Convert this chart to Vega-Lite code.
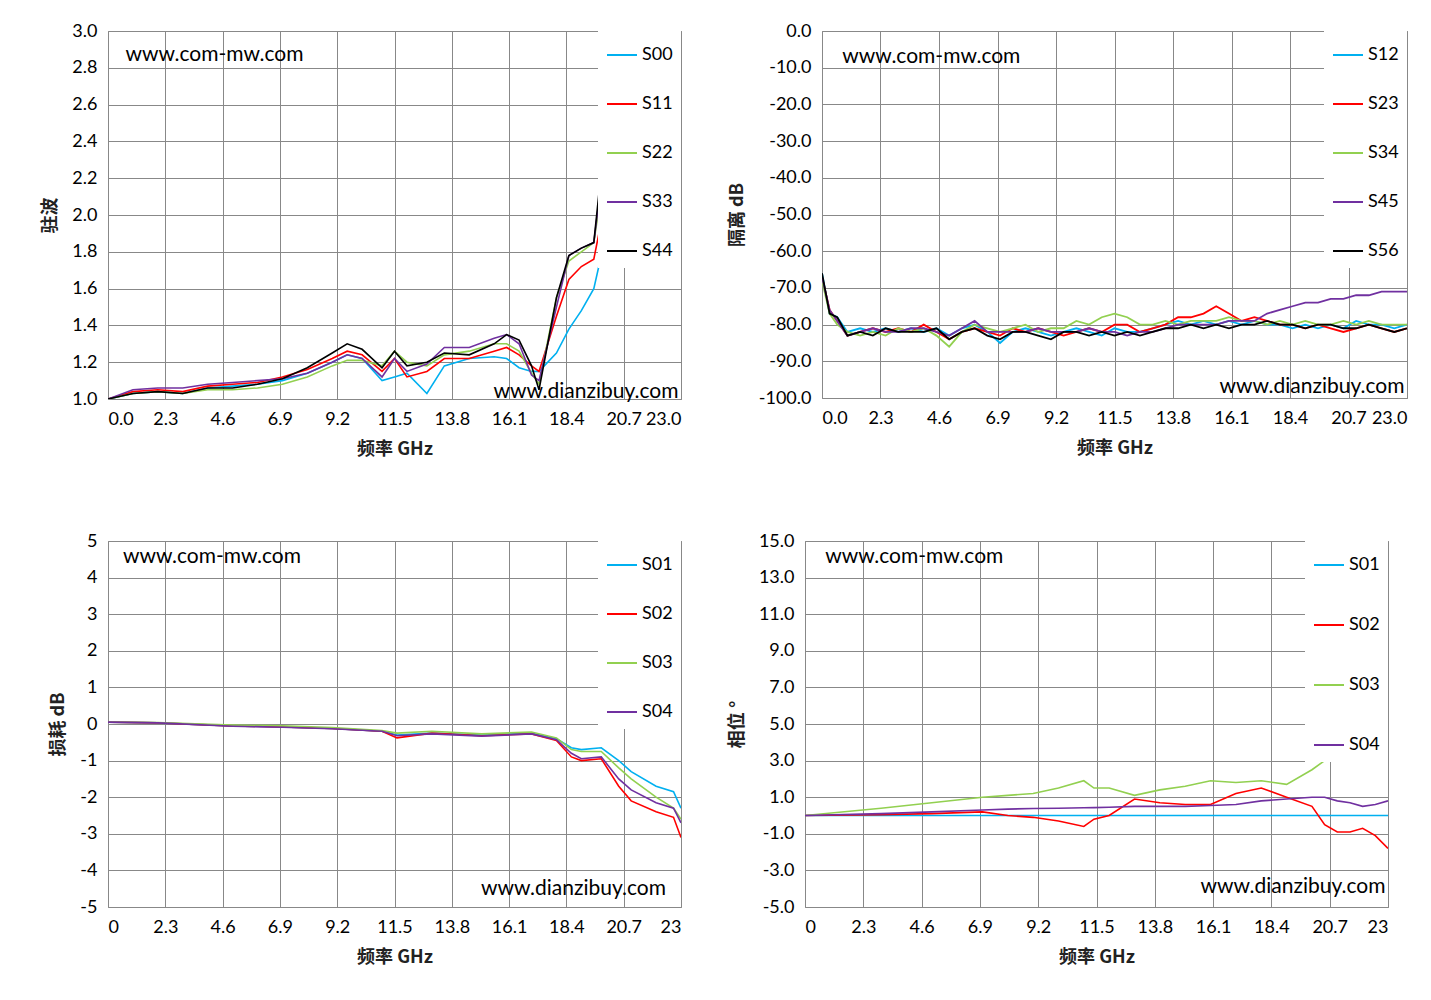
{
  "$schema": "https://vega.github.io/schema/vega-lite/v6.json",
  "background": "white",
  "padding": {"left": 41, "top": 21, "right": 10, "bottom": 5},
  "datasets": {
    "p1": [
      {"f":0,"S00":1.0,"S11":1.0,"S22":1.0,"S33":1.0,"S44":1.0},
      {"f":1,"S00":1.03,"S11":1.04,"S22":1.03,"S33":1.05,"S44":1.03},
      {"f":2,"S00":1.04,"S11":1.05,"S22":1.04,"S33":1.06,"S44":1.04},
      {"f":3,"S00":1.03,"S11":1.04,"S22":1.03,"S33":1.06,"S44":1.03},
      {"f":4,"S00":1.06,"S11":1.07,"S22":1.05,"S33":1.08,"S44":1.06},
      {"f":5,"S00":1.07,"S11":1.08,"S22":1.05,"S33":1.09,"S44":1.06},
      {"f":6,"S00":1.08,"S11":1.09,"S22":1.06,"S33":1.1,"S44":1.08},
      {"f":7,"S00":1.1,"S11":1.12,"S22":1.08,"S33":1.11,"S44":1.11},
      {"f":8,"S00":1.14,"S11":1.16,"S22":1.12,"S33":1.14,"S44":1.17},
      {"f":9,"S00":1.2,"S11":1.22,"S22":1.18,"S33":1.2,"S44":1.25},
      {"f":9.6,"S00":1.24,"S11":1.26,"S22":1.21,"S33":1.24,"S44":1.3},
      {"f":10.2,"S00":1.22,"S11":1.24,"S22":1.21,"S33":1.22,"S44":1.27},
      {"f":11,"S00":1.1,"S11":1.15,"S22":1.18,"S33":1.12,"S44":1.17},
      {"f":11.5,"S00":1.12,"S11":1.22,"S22":1.26,"S33":1.22,"S44":1.26},
      {"f":12,"S00":1.14,"S11":1.12,"S22":1.2,"S33":1.15,"S44":1.18},
      {"f":12.8,"S00":1.03,"S11":1.15,"S22":1.18,"S33":1.19,"S44":1.2},
      {"f":13.5,"S00":1.18,"S11":1.22,"S22":1.24,"S33":1.28,"S44":1.25},
      {"f":14.5,"S00":1.22,"S11":1.22,"S22":1.26,"S33":1.28,"S44":1.24},
      {"f":15.5,"S00":1.23,"S11":1.26,"S22":1.3,"S33":1.33,"S44":1.3},
      {"f":16,"S00":1.22,"S11":1.28,"S22":1.3,"S33":1.35,"S44":1.35},
      {"f":16.5,"S00":1.17,"S11":1.24,"S22":1.26,"S33":1.3,"S44":1.32},
      {"f":17,"S00":1.15,"S11":1.18,"S22":1.14,"S33":1.13,"S44":1.18},
      {"f":17.3,"S00":1.15,"S11":1.15,"S22":1.08,"S33":1.1,"S44":1.05},
      {"f":18,"S00":1.25,"S11":1.45,"S22":1.55,"S33":1.5,"S44":1.55},
      {"f":18.5,"S00":1.38,"S11":1.65,"S22":1.75,"S33":1.78,"S44":1.78},
      {"f":19,"S00":1.48,"S11":1.72,"S22":1.8,"S33":1.82,"S44":1.82},
      {"f":19.5,"S00":1.6,"S11":1.76,"S22":1.85,"S33":1.85,"S44":1.85},
      {"f":20,"S00":1.9,"S11":2.1,"S22":2.3,"S33":2.4,"S44":2.5},
      {"f":20.5,"S00":2.05,"S11":2.2,"S22":2.6,"S33":2.8,"S44":2.9},
      {"f":21,"S00":2.3,"S11":2.5,"S22":3.1,"S33":3.2,"S44":3.3},
      {"f":22,"S00":2.6,"S11":2.8,"S22":3.5,"S33":3.5,"S44":3.5},
      {"f":22.5,"S00":2.78,"S11":3.1,"S22":3.6,"S33":3.6,"S44":3.6},
      {"f":23,"S00":3.0,"S11":3.3,"S22":3.7,"S33":3.7,"S44":3.7}
    ],
    "p2": [
      {"f":0,"S12":-66,"S23":-67,"S34":-68,"S45":-67,"S56":-66},
      {"f":0.3,"S12":-77,"S23":-76,"S34":-77,"S45":-76,"S56":-77},
      {"f":0.6,"S12":-78,"S23":-79,"S34":-80,"S45":-79,"S56":-78},
      {"f":1,"S12":-82,"S23":-83,"S34":-82,"S45":-83,"S56":-83},
      {"f":1.5,"S12":-81,"S23":-82,"S34":-83,"S45":-82,"S56":-82},
      {"f":2,"S12":-82,"S23":-81,"S34":-82,"S45":-81,"S56":-83},
      {"f":2.5,"S12":-81,"S23":-82,"S34":-83,"S45":-82,"S56":-81},
      {"f":3,"S12":-82,"S23":-81,"S34":-81,"S45":-82,"S56":-82},
      {"f":3.5,"S12":-81,"S23":-82,"S34":-82,"S45":-81,"S56":-82},
      {"f":4,"S12":-82,"S23":-80,"S34":-81,"S45":-81,"S56":-82},
      {"f":4.5,"S12":-81,"S23":-82,"S34":-83,"S45":-82,"S56":-81},
      {"f":5,"S12":-83,"S23":-84,"S34":-86,"S45":-83,"S56":-84},
      {"f":5.5,"S12":-81,"S23":-82,"S34":-82,"S45":-81,"S56":-82},
      {"f":6,"S12":-80,"S23":-81,"S34":-80,"S45":-79,"S56":-81},
      {"f":6.5,"S12":-82,"S23":-82,"S34":-81,"S45":-82,"S56":-83},
      {"f":7,"S12":-85,"S23":-83,"S34":-82,"S45":-82,"S56":-84},
      {"f":7.5,"S12":-82,"S23":-81,"S34":-81,"S45":-82,"S56":-82},
      {"f":8,"S12":-81,"S23":-82,"S34":-80,"S45":-82,"S56":-82},
      {"f":8.5,"S12":-82,"S23":-81,"S34":-82,"S45":-81,"S56":-83},
      {"f":9,"S12":-83,"S23":-82,"S34":-81,"S45":-82,"S56":-84},
      {"f":9.5,"S12":-82,"S23":-83,"S34":-81,"S45":-82,"S56":-82},
      {"f":10,"S12":-81,"S23":-82,"S34":-79,"S45":-82,"S56":-82},
      {"f":10.5,"S12":-82,"S23":-81,"S34":-80,"S45":-81,"S56":-83},
      {"f":11,"S12":-83,"S23":-82,"S34":-78,"S45":-82,"S56":-82},
      {"f":11.5,"S12":-81,"S23":-80,"S34":-77,"S45":-82,"S56":-83},
      {"f":12,"S12":-82,"S23":-80,"S34":-78,"S45":-83,"S56":-82},
      {"f":12.5,"S12":-82,"S23":-82,"S34":-80,"S45":-82,"S56":-83},
      {"f":13,"S12":-81,"S23":-81,"S34":-80,"S45":-82,"S56":-82},
      {"f":13.5,"S12":-80,"S23":-80,"S34":-79,"S45":-81,"S56":-81},
      {"f":14,"S12":-79,"S23":-78,"S34":-80,"S45":-80,"S56":-81},
      {"f":14.5,"S12":-80,"S23":-78,"S34":-79,"S45":-80,"S56":-80},
      {"f":15,"S12":-79,"S23":-77,"S34":-79,"S45":-80,"S56":-81},
      {"f":15.5,"S12":-80,"S23":-75,"S34":-79,"S45":-80,"S56":-80},
      {"f":16,"S12":-79,"S23":-77,"S34":-78,"S45":-79,"S56":-81},
      {"f":16.5,"S12":-80,"S23":-79,"S34":-79,"S45":-79,"S56":-80},
      {"f":17,"S12":-79,"S23":-78,"S34":-79,"S45":-79,"S56":-80},
      {"f":17.5,"S12":-80,"S23":-79,"S34":-80,"S45":-77,"S56":-79},
      {"f":18,"S12":-80,"S23":-80,"S34":-79,"S45":-76,"S56":-80},
      {"f":18.5,"S12":-81,"S23":-80,"S34":-80,"S45":-75,"S56":-80},
      {"f":19,"S12":-80,"S23":-81,"S34":-79,"S45":-74,"S56":-81},
      {"f":19.5,"S12":-81,"S23":-80,"S34":-80,"S45":-74,"S56":-80},
      {"f":20,"S12":-80,"S23":-81,"S34":-80,"S45":-73,"S56":-80},
      {"f":20.5,"S12":-81,"S23":-82,"S34":-79,"S45":-73,"S56":-81},
      {"f":21,"S12":-79,"S23":-81,"S34":-80,"S45":-72,"S56":-81},
      {"f":21.5,"S12":-80,"S23":-80,"S34":-79,"S45":-72,"S56":-80},
      {"f":22,"S12":-80,"S23":-81,"S34":-80,"S45":-71,"S56":-81},
      {"f":22.5,"S12":-81,"S23":-82,"S34":-80,"S45":-71,"S56":-82},
      {"f":23,"S12":-80,"S23":-81,"S34":-80,"S45":-71,"S56":-81}
    ],
    "p3": [
      {"f":0,"S01":0.05,"S02":0.05,"S03":0.05,"S04":0.05},
      {"f":2,"S01":0.03,"S02":0.03,"S03":0.04,"S04":0.03},
      {"f":5,"S01":-0.05,"S02":-0.05,"S03":-0.03,"S04":-0.06},
      {"f":7,"S01":-0.08,"S02":-0.08,"S03":-0.05,"S04":-0.09},
      {"f":9,"S01":-0.12,"S02":-0.12,"S03":-0.1,"S04":-0.13},
      {"f":11,"S01":-0.2,"S02":-0.2,"S03":-0.18,"S04":-0.2},
      {"f":11.6,"S01":-0.3,"S02":-0.38,"S03":-0.25,"S04":-0.32},
      {"f":13,"S01":-0.25,"S02":-0.25,"S03":-0.2,"S04":-0.27},
      {"f":15,"S01":-0.3,"S02":-0.32,"S03":-0.27,"S04":-0.33},
      {"f":17,"S01":-0.25,"S02":-0.27,"S03":-0.22,"S04":-0.27},
      {"f":18,"S01":-0.4,"S02":-0.45,"S03":-0.38,"S04":-0.43},
      {"f":18.6,"S01":-0.65,"S02":-0.9,"S03":-0.7,"S04":-0.8},
      {"f":19,"S01":-0.7,"S02":-1.0,"S03":-0.75,"S04":-0.95},
      {"f":19.8,"S01":-0.65,"S02":-0.95,"S03":-0.75,"S04":-0.9},
      {"f":20.5,"S01":-1.0,"S02":-1.7,"S03":-1.2,"S04":-1.5},
      {"f":21,"S01":-1.3,"S02":-2.1,"S03":-1.5,"S04":-1.8},
      {"f":22,"S01":-1.7,"S02":-2.4,"S03":-2.0,"S04":-2.15},
      {"f":22.7,"S01":-1.85,"S02":-2.55,"S03":-2.3,"S04":-2.3},
      {"f":23,"S01":-2.3,"S02":-3.1,"S03":-2.6,"S04":-2.7}
    ],
    "p4": [
      {"f":0,"S01":0,"S02":0,"S03":0,"S04":0},
      {"f":3,"S01":0,"S02":0.05,"S03":0.4,"S04":0.1},
      {"f":5,"S01":0,"S02":0.1,"S03":0.7,"S04":0.2},
      {"f":7,"S01":0,"S02":0.2,"S03":1.0,"S04":0.3},
      {"f":8,"S01":0,"S02":0,"S03":1.1,"S04":0.35},
      {"f":9,"S01":0,"S02":-0.1,"S03":1.2,"S04":0.38},
      {"f":10,"S01":0,"S02":-0.3,"S03":1.5,"S04":0.4},
      {"f":11,"S01":0,"S02":-0.6,"S03":1.9,"S04":0.42},
      {"f":11.4,"S01":0,"S02":-0.2,"S03":1.5,"S04":0.43},
      {"f":12,"S01":0,"S02":0,"S03":1.5,"S04":0.45},
      {"f":13,"S01":0,"S02":0.9,"S03":1.1,"S04":0.5},
      {"f":14,"S01":0,"S02":0.7,"S03":1.4,"S04":0.5},
      {"f":15,"S01":0,"S02":0.6,"S03":1.6,"S04":0.5},
      {"f":16,"S01":0,"S02":0.6,"S03":1.9,"S04":0.55},
      {"f":17,"S01":0,"S02":1.2,"S03":1.8,"S04":0.6},
      {"f":18,"S01":0,"S02":1.5,"S03":1.9,"S04":0.8},
      {"f":19,"S01":0,"S02":1.0,"S03":1.7,"S04":0.9},
      {"f":20,"S01":0,"S02":0.5,"S03":2.5,"S04":1.0},
      {"f":20.5,"S01":0,"S02":-0.5,"S03":3.0,"S04":1.0},
      {"f":21,"S01":0,"S02":-0.9,"S03":3.5,"S04":0.8},
      {"f":21.5,"S01":0,"S02":-0.9,"S03":3.7,"S04":0.7},
      {"f":22,"S01":0,"S02":-0.7,"S03":4.0,"S04":0.5},
      {"f":22.5,"S01":0,"S02":-1.1,"S03":4.4,"S04":0.6},
      {"f":23,"S01":0,"S02":-1.8,"S03":4.9,"S04":0.8}
    ]
  },
  "config": {
    "font": "Lato",
    "view": {"stroke": "#888"},
    "axis": {"labelFontSize": 18, "labelColor": "#000", "gridColor": "#888", "gridOpacity": 1, "domain": false, "ticks": false, "labelPadding": 11, "titlePadding": 12, "labelOverlap": false, "labelBound": false, "titleFont": "Noto Sans CJK SC", "titleFontSize": 18, "titleFontWeight": "bold", "titleColor": "#222"},
    "legend": {"orient": "top-right", "offset": 0, "fillColor": "white", "symbolType": "stroke", "symbolStrokeWidth": 2, "symbolSize": 900, "labelFontSize": 18, "labelColor": "#000", "padding": 8, "title": null},
    "text": {"fontSize": 21, "font": "Lato", "color": "#000"}
  },
  "vconcat": [
    {"hconcat": [
      {"width": 573, "height": 368,
       "encoding": {
        "x": {"field": "f", "type": "quantitative", "title": "频率 GHz", "scale": {"domain": [0,23], "nice": false}, "axis": {"values": [0,2.3,4.6,6.9,9.2,11.5,13.8,16.1,18.4,20.7,23], "format": ".1f"}},
        "y": {"field": "v", "type": "quantitative", "title": "驻波", "scale": {"domain": [1,3], "nice": false}, "axis": {"values": [1,1.2,1.4,1.6,1.8,2,2.2,2.4,2.6,2.8,3], "format": ".1f"}}
       },
       "layer": [
        {"data": {"name": "p1"}, "transform": [{"fold": ["S00","S11","S22","S33","S44"], "as": ["s","v"]}],
         "mark": {"type": "line", "strokeWidth": 1.6, "clip": true},
         "encoding": {
          "color": {"field": "s", "type": "nominal", "scale": {"domain": ["S00","S11","S22","S33","S44"], "range": ["#00B0F0","#FF0000","#92D050","#7030A0","#000000"]}, "legend": {"rowPadding": 24}}
         }},
        {"data": {"values": [{"f": 0.7, "v": 2.87, "t": "www.com-mw.com"}]}, "mark": {"type": "text", "align": "left"}, "encoding": {"text": {"field": "t"}}},
        {"data": {"values": [{"f": 22.9, "v": 1.04, "t": "www.dianzibuy.com"}]}, "mark": {"type": "text", "align": "right"}, "encoding": {"text": {"field": "t"}}}
       ]},
      {"width": 585, "height": 367,
       "encoding": {
        "x": {"field": "f", "type": "quantitative", "title": "频率 GHz", "scale": {"domain": [0,23], "nice": false}, "axis": {"values": [0,2.3,4.6,6.9,9.2,11.5,13.8,16.1,18.4,20.7,23], "format": ".1f"}},
        "y": {"field": "v", "type": "quantitative", "title": "隔离 dB", "scale": {"domain": [-100,0], "nice": false}, "axis": {"values": [0,-10,-20,-30,-40,-50,-60,-70,-80,-90,-100], "labelExpr": "replace(format(datum.value, '.1f'), '−', '-')"}}
       },
       "layer": [
        {"data": {"name": "p2"}, "transform": [{"fold": ["S12","S23","S34","S45","S56"], "as": ["s","v"]}],
         "mark": {"type": "line", "strokeWidth": 1.8, "clip": true},
         "encoding": {
          "color": {"field": "s", "type": "nominal", "scale": {"domain": ["S12","S23","S34","S45","S56"], "range": ["#00B0F0","#FF0000","#92D050","#7030A0","#000000"]}, "legend": {"rowPadding": 24}}
         }},
        {"data": {"values": [{"f": 0.8, "v": -7, "t": "www.com-mw.com"}]}, "mark": {"type": "text", "align": "left"}, "encoding": {"text": {"field": "t"}}},
        {"data": {"values": [{"f": 22.9, "v": -97, "t": "www.dianzibuy.com"}]}, "mark": {"type": "text", "align": "right"}, "encoding": {"text": {"field": "t"}}}
       ]}
    ], "spacing": 45, "resolve": {"scale": {"color": "independent"}, "legend": {"color": "independent"}}},
    {"hconcat": [
      {"width": 573, "height": 366,
       "encoding": {
        "x": {"field": "f", "type": "quantitative", "title": "频率 GHz", "scale": {"domain": [0,23], "nice": false}, "axis": {"values": [0,2.3,4.6,6.9,9.2,11.5,13.8,16.1,18.4,20.7,23], "labelExpr": "datum.value == 0 || datum.value == 23 ? format(datum.value, 'd') : format(datum.value, '.1f')"}},
        "y": {"field": "v", "type": "quantitative", "title": "损耗 dB", "scale": {"domain": [-5,5], "nice": false}, "axis": {"values": [-5,-4,-3,-2,-1,0,1,2,3,4,5], "labelExpr": "replace(format(datum.value, 'd'), '−', '-')"}}
       },
       "layer": [
        {"data": {"name": "p3"}, "transform": [{"fold": ["S01","S02","S03","S04"], "as": ["s","v"]}],
         "mark": {"type": "line", "strokeWidth": 1.6, "clip": true},
         "encoding": {
          "color": {"field": "s", "type": "nominal", "scale": {"domain": ["S01","S02","S03","S04"], "range": ["#00B0F0","#FF0000","#92D050","#7030A0"]}, "legend": {"rowPadding": 24}}
         }},
        {"data": {"values": [{"f": 0.6, "v": 4.55, "t": "www.com-mw.com"}]}, "mark": {"type": "text", "align": "left"}, "encoding": {"text": {"field": "t"}}},
        {"data": {"values": [{"f": 22.4, "v": -4.5, "t": "www.dianzibuy.com"}]}, "mark": {"type": "text", "align": "right"}, "encoding": {"text": {"field": "t"}}}
       ]},
      {"width": 583, "height": 366,
       "encoding": {
        "x": {"field": "f", "type": "quantitative", "title": "频率 GHz", "scale": {"domain": [0,23], "nice": false}, "axis": {"values": [0,2.3,4.6,6.9,9.2,11.5,13.8,16.1,18.4,20.7,23], "labelExpr": "datum.value == 0 || datum.value == 23 ? format(datum.value, 'd') : format(datum.value, '.1f')"}},
        "y": {"field": "v", "type": "quantitative", "title": "相位 °", "scale": {"domain": [-5,15], "nice": false}, "axis": {"values": [-5,-3,-1,1,3,5,7,9,11,13,15], "labelExpr": "replace(format(datum.value, '.1f'), '−', '-')"}}
       },
       "layer": [
        {"data": {"name": "p4"}, "transform": [{"fold": ["S01","S02","S03","S04"], "as": ["s","v"]}],
         "mark": {"type": "line", "strokeWidth": 1.6, "clip": true},
         "encoding": {
          "color": {"field": "s", "type": "nominal", "scale": {"domain": ["S01","S02","S03","S04"], "range": ["#00B0F0","#FF0000","#92D050","#7030A0"]}, "legend": {"rowPadding": 35}}
         }},
        {"data": {"values": [{"f": 0.8, "v": 14.1, "t": "www.com-mw.com"}]}, "mark": {"type": "text", "align": "left"}, "encoding": {"text": {"field": "t"}}},
        {"data": {"values": [{"f": 22.9, "v": -3.9, "t": "www.dianzibuy.com"}]}, "mark": {"type": "text", "align": "right"}, "encoding": {"text": {"field": "t"}}}
       ]}
    ], "spacing": 45, "resolve": {"scale": {"color": "independent"}, "legend": {"color": "independent"}}}
  ],
  "spacing": 72,
  "resolve": {"scale": {"color": "independent"}, "legend": {"color": "independent"}}
}
